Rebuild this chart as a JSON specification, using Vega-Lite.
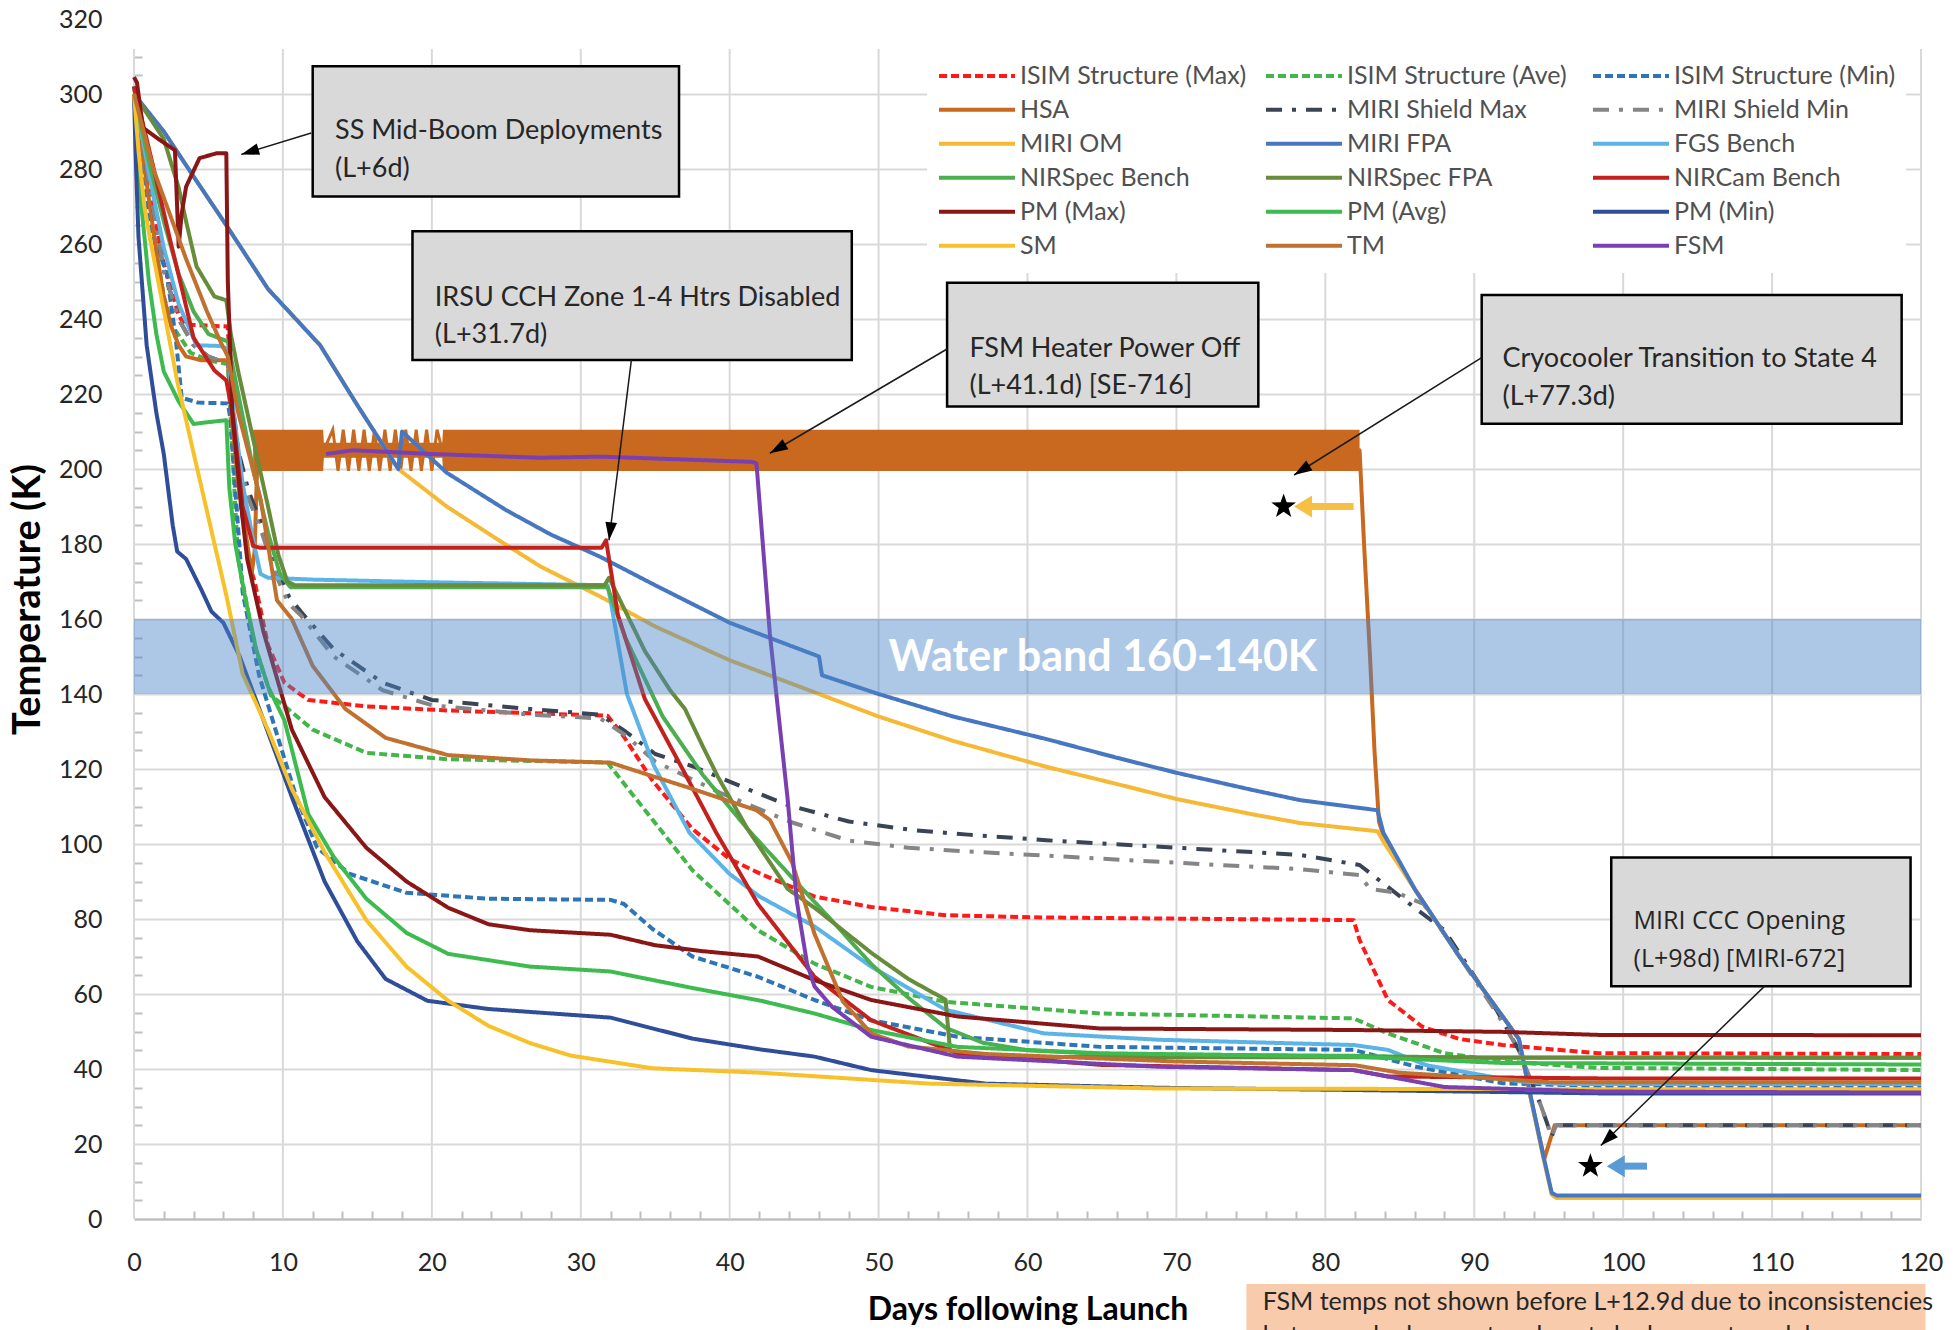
{
"$schema": "https://vega.github.io/schema/vega-lite/v6.json",
"width": 1787,
"height": 1200,
"autosize": "none",
"padding": {"left": 134, "top": 19, "right": 38, "bottom": 111},
"background": "#ffffff",
"config": {"view": {"stroke": null}, "font": "Lato"},
"datasets": {
"grid": [{"d":0,"k0":0,"k1":312},{"d":10,"k0":0,"k1":312},{"d":20,"k0":0,"k1":312},{"d":30,"k0":0,"k1":312},{"d":40,"k0":0,"k1":312},{"d":50,"k0":0,"k1":312},{"d":60,"k0":0,"k1":312},{"d":70,"k0":0,"k1":312},{"d":80,"k0":0,"k1":312},{"d":90,"k0":0,"k1":312},{"d":100,"k0":0,"k1":312},{"d":110,"k0":0,"k1":312},{"d":120,"k0":0,"k1":312}],
"hsaband": [{"d":8.0,"lo":199.5,"hi":210.5},{"d":12.7,"lo":199.5,"hi":210.5},{"d":12.75,"lo":203,"hi":207},{"d":20.7,"lo":203,"hi":207},{"d":20.75,"lo":199.5,"hi":210.5},{"d":82.3,"lo":199.5,"hi":210.5}],
"hsazig": [{"d":12.75,"k":205},{"d":13.35,"k":210.5},{"d":13.7,"k":199.5},{"d":14.05,"k":210.5},{"d":14.4,"k":199.5},{"d":14.75,"k":210.5},{"d":15.1,"k":199.5},{"d":15.45,"k":210.5},{"d":15.8,"k":199.5},{"d":16.15,"k":210.5},{"d":16.5,"k":199.5},{"d":16.85,"k":210.5},{"d":17.2,"k":199.5},{"d":17.55,"k":210.5},{"d":17.9,"k":199.5},{"d":18.25,"k":210.5},{"d":18.6,"k":199.5},{"d":18.95,"k":210.5},{"d":19.3,"k":199.5},{"d":19.65,"k":210.5},{"d":20.0,"k":199.5},{"d":20.35,"k":210.5},{"d":20.7,"k":205}],
"series": [
{"s":"ISIM Structure (Max)","d":0,"k":300},{"s":"ISIM Structure (Max)","d":1,"k":275},{"s":"ISIM Structure (Max)","d":2,"k":255},{"s":"ISIM Structure (Max)","d":3,"k":241},{"s":"ISIM Structure (Max)","d":3.4,"k":238.5},{"s":"ISIM Structure (Max)","d":6.3,"k":238},{"s":"ISIM Structure (Max)","d":6.6,"k":215},{"s":"ISIM Structure (Max)","d":7.2,"k":190},{"s":"ISIM Structure (Max)","d":7.7,"k":175},{"s":"ISIM Structure (Max)","d":8.1,"k":170},{"s":"ISIM Structure (Max)","d":9,"k":153},{"s":"ISIM Structure (Max)","d":10.1,"k":143},{"s":"ISIM Structure (Max)","d":11.7,"k":138.4},{"s":"ISIM Structure (Max)","d":15.6,"k":136.7},{"s":"ISIM Structure (Max)","d":21.1,"k":135.6},{"s":"ISIM Structure (Max)","d":31.8,"k":134.2},{"s":"ISIM Structure (Max)","d":32.9,"k":128.6},{"s":"ISIM Structure (Max)","d":34.8,"k":117},{"s":"ISIM Structure (Max)","d":37.5,"k":104},{"s":"ISIM Structure (Max)","d":40,"k":96},{"s":"ISIM Structure (Max)","d":42.1,"k":92},{"s":"ISIM Structure (Max)","d":45.7,"k":86},{"s":"ISIM Structure (Max)","d":49.5,"k":83.2},{"s":"ISIM Structure (Max)","d":54.5,"k":81},{"s":"ISIM Structure (Max)","d":61.1,"k":80.4},{"s":"ISIM Structure (Max)","d":81.9,"k":79.7},{"s":"ISIM Structure (Max)","d":82.3,"k":74.4},{"s":"ISIM Structure (Max)","d":84.2,"k":58.4},{"s":"ISIM Structure (Max)","d":86.5,"k":51.3},{"s":"ISIM Structure (Max)","d":89,"k":48},{"s":"ISIM Structure (Max)","d":91.9,"k":46.4},{"s":"ISIM Structure (Max)","d":98.3,"k":44.2},{"s":"ISIM Structure (Max)","d":120,"k":44},
{"s":"ISIM Structure (Ave)","d":0,"k":300},{"s":"ISIM Structure (Ave)","d":1,"k":270},{"s":"ISIM Structure (Ave)","d":2,"k":246},{"s":"ISIM Structure (Ave)","d":2.6,"k":238},{"s":"ISIM Structure (Ave)","d":3.8,"k":231},{"s":"ISIM Structure (Ave)","d":5,"k":229},{"s":"ISIM Structure (Ave)","d":6.3,"k":228},{"s":"ISIM Structure (Ave)","d":6.8,"k":190},{"s":"ISIM Structure (Ave)","d":7,"k":176},{"s":"ISIM Structure (Ave)","d":8.1,"k":153},{"s":"ISIM Structure (Ave)","d":9.2,"k":139.6},{"s":"ISIM Structure (Ave)","d":10.1,"k":136.8},{"s":"ISIM Structure (Ave)","d":12,"k":130.5},{"s":"ISIM Structure (Ave)","d":15.6,"k":124.3},{"s":"ISIM Structure (Ave)","d":21.1,"k":122.6},{"s":"ISIM Structure (Ave)","d":31.8,"k":121.7},{"s":"ISIM Structure (Ave)","d":33.2,"k":114.6},{"s":"ISIM Structure (Ave)","d":34.8,"k":106.6},{"s":"ISIM Structure (Ave)","d":37.5,"k":93},{"s":"ISIM Structure (Ave)","d":41.9,"k":77},{"s":"ISIM Structure (Ave)","d":45.7,"k":68.1},{"s":"ISIM Structure (Ave)","d":49.5,"k":61.9},{"s":"ISIM Structure (Ave)","d":54.5,"k":57.9},{"s":"ISIM Structure (Ave)","d":64.9,"k":54.8},{"s":"ISIM Structure (Ave)","d":81.9,"k":53.5},{"s":"ISIM Structure (Ave)","d":84.2,"k":49.5},{"s":"ISIM Structure (Ave)","d":88,"k":44.2},{"s":"ISIM Structure (Ave)","d":92,"k":42},{"s":"ISIM Structure (Ave)","d":98.3,"k":40.3},{"s":"ISIM Structure (Ave)","d":120,"k":39.7},
{"s":"ISIM Structure (Min)","d":0,"k":300},{"s":"ISIM Structure (Min)","d":0.5,"k":280},{"s":"ISIM Structure (Min)","d":1,"k":266},{"s":"ISIM Structure (Min)","d":2.2,"k":252},{"s":"ISIM Structure (Min)","d":2.8,"k":235},{"s":"ISIM Structure (Min)","d":3.2,"k":219},{"s":"ISIM Structure (Min)","d":4.3,"k":217.7},{"s":"ISIM Structure (Min)","d":6.3,"k":217.5},{"s":"ISIM Structure (Min)","d":6.45,"k":214},{"s":"ISIM Structure (Min)","d":6.8,"k":195},{"s":"ISIM Structure (Min)","d":7.3,"k":167},{"s":"ISIM Structure (Min)","d":8.4,"k":145},{"s":"ISIM Structure (Min)","d":9.5,"k":130.5},{"s":"ISIM Structure (Min)","d":10.9,"k":112.5},{"s":"ISIM Structure (Min)","d":12.3,"k":99},{"s":"ISIM Structure (Min)","d":14.5,"k":92},{"s":"ISIM Structure (Min)","d":18.3,"k":87},{"s":"ISIM Structure (Min)","d":23.8,"k":85.4},{"s":"ISIM Structure (Min)","d":32,"k":85.1},{"s":"ISIM Structure (Min)","d":32.9,"k":84},{"s":"ISIM Structure (Min)","d":34.8,"k":77.4},{"s":"ISIM Structure (Min)","d":37.5,"k":70},{"s":"ISIM Structure (Min)","d":41.9,"k":64.6},{"s":"ISIM Structure (Min)","d":45.7,"k":58.4},{"s":"ISIM Structure (Min)","d":49.5,"k":53},{"s":"ISIM Structure (Min)","d":55.3,"k":48.6},{"s":"ISIM Structure (Min)","d":64.9,"k":45.9},{"s":"ISIM Structure (Min)","d":81.9,"k":45.1},{"s":"ISIM Structure (Min)","d":86.1,"k":40.6},{"s":"ISIM Structure (Min)","d":91.9,"k":36.2},{"s":"ISIM Structure (Min)","d":98.3,"k":35.5},{"s":"ISIM Structure (Min)","d":120,"k":35.5},
{"s":"HSA","d":0,"k":300},{"s":"HSA","d":0.5,"k":286},{"s":"HSA","d":1,"k":272},{"s":"HSA","d":1.5,"k":258},{"s":"HSA","d":2,"k":246},{"s":"HSA","d":2.5,"k":238},{"s":"HSA","d":3,"k":233},{"s":"HSA","d":3.5,"k":230},{"s":"HSA","d":4.5,"k":229},{"s":"HSA","d":5.5,"k":229},{"s":"HSA","d":6.3,"k":229},{"s":"HSA","d":6.6,"k":212},{"s":"HSA","d":7,"k":196},{"s":"HSA","d":7.5,"k":183},{"s":"HSA","d":7.9,"k":172},{"s":"HSA","d":8.1,"k":178},{"s":"HSA","d":8.3,"k":205},{"s":"HSA","d":82.3,"k":205},{"s":"HSA","d":82.6,"k":180},{"s":"HSA","d":83,"k":150},{"s":"HSA","d":83.3,"k":125},{"s":"HSA","d":83.6,"k":106},{"s":"HSA","d":84,"k":101},{"s":"HSA","d":86,"k":88},{"s":"HSA","d":89,"k":70},{"s":"HSA","d":93,"k":48},{"s":"HSA","d":93.7,"k":34},{"s":"HSA","d":94.7,"k":16},{"s":"HSA","d":95.4,"k":25},{"s":"HSA","d":120,"k":25},
{"s":"MIRI Shield Max","d":0,"k":302},{"s":"MIRI Shield Max","d":1,"k":276},{"s":"MIRI Shield Max","d":2,"k":253},{"s":"MIRI Shield Max","d":3,"k":240},{"s":"MIRI Shield Max","d":4,"k":233},{"s":"MIRI Shield Max","d":5,"k":230},{"s":"MIRI Shield Max","d":6.3,"k":228},{"s":"MIRI Shield Max","d":7,"k":205},{"s":"MIRI Shield Max","d":7.7,"k":194},{"s":"MIRI Shield Max","d":8.5,"k":186},{"s":"MIRI Shield Max","d":9.5,"k":175},{"s":"MIRI Shield Max","d":10.4,"k":166},{"s":"MIRI Shield Max","d":11.2,"k":162},{"s":"MIRI Shield Max","d":13.4,"k":152},{"s":"MIRI Shield Max","d":16.7,"k":143},{"s":"MIRI Shield Max","d":20,"k":138.4},{"s":"MIRI Shield Max","d":26.6,"k":136},{"s":"MIRI Shield Max","d":31.3,"k":134.5},{"s":"MIRI Shield Max","d":33,"k":130},{"s":"MIRI Shield Max","d":35,"k":124},{"s":"MIRI Shield Max","d":37.6,"k":120.6},{"s":"MIRI Shield Max","d":41.6,"k":114},{"s":"MIRI Shield Max","d":43.9,"k":110.4},{"s":"MIRI Shield Max","d":48,"k":106},{"s":"MIRI Shield Max","d":52.3,"k":103.7},{"s":"MIRI Shield Max","d":56,"k":102.5},{"s":"MIRI Shield Max","d":61.25,"k":101},{"s":"MIRI Shield Max","d":70,"k":99},{"s":"MIRI Shield Max","d":78.3,"k":97.1},{"s":"MIRI Shield Max","d":82.3,"k":94.4},{"s":"MIRI Shield Max","d":83.4,"k":91},{"s":"MIRI Shield Max","d":86,"k":83},{"s":"MIRI Shield Max","d":88,"k":77},{"s":"MIRI Shield Max","d":91.5,"k":55.7},{"s":"MIRI Shield Max","d":93,"k":45},{"s":"MIRI Shield Max","d":94.5,"k":30},{"s":"MIRI Shield Max","d":95.2,"k":22},{"s":"MIRI Shield Max","d":95.5,"k":25},{"s":"MIRI Shield Max","d":120,"k":25},
{"s":"MIRI Shield Min","d":0,"k":302},{"s":"MIRI Shield Min","d":1,"k":276},{"s":"MIRI Shield Min","d":2,"k":253},{"s":"MIRI Shield Min","d":3,"k":240},{"s":"MIRI Shield Min","d":4,"k":233},{"s":"MIRI Shield Min","d":5,"k":230},{"s":"MIRI Shield Min","d":6.3,"k":228},{"s":"MIRI Shield Min","d":7,"k":203},{"s":"MIRI Shield Min","d":7.7,"k":192},{"s":"MIRI Shield Min","d":8.5,"k":184},{"s":"MIRI Shield Min","d":9.5,"k":172},{"s":"MIRI Shield Min","d":10.4,"k":164},{"s":"MIRI Shield Min","d":11.2,"k":161},{"s":"MIRI Shield Min","d":13.4,"k":150},{"s":"MIRI Shield Min","d":16.7,"k":141},{"s":"MIRI Shield Min","d":20,"k":137},{"s":"MIRI Shield Min","d":26.6,"k":134.5},{"s":"MIRI Shield Min","d":31.3,"k":133.5},{"s":"MIRI Shield Min","d":33,"k":129},{"s":"MIRI Shield Min","d":35,"k":122},{"s":"MIRI Shield Min","d":39.4,"k":113.6},{"s":"MIRI Shield Min","d":44,"k":106},{"s":"MIRI Shield Min","d":48,"k":100.9},{"s":"MIRI Shield Min","d":52,"k":99},{"s":"MIRI Shield Min","d":56,"k":98},{"s":"MIRI Shield Min","d":61.25,"k":96.9},{"s":"MIRI Shield Min","d":70,"k":95},{"s":"MIRI Shield Min","d":78.3,"k":93.3},{"s":"MIRI Shield Min","d":82.3,"k":91.7},{"s":"MIRI Shield Min","d":83,"k":88},{"s":"MIRI Shield Min","d":84.8,"k":87},{"s":"MIRI Shield Min","d":86.6,"k":84},{"s":"MIRI Shield Min","d":88,"k":76},{"s":"MIRI Shield Min","d":91.5,"k":55},{"s":"MIRI Shield Min","d":93,"k":45},{"s":"MIRI Shield Min","d":94.5,"k":30},{"s":"MIRI Shield Min","d":95.2,"k":22},{"s":"MIRI Shield Min","d":95.5,"k":25},{"s":"MIRI Shield Min","d":120,"k":25},
{"s":"MIRI OM","d":0,"k":300},{"s":"MIRI OM","d":2,"k":290},{"s":"MIRI OM","d":4,"k":278},{"s":"MIRI OM","d":6.2,"k":265},{"s":"MIRI OM","d":9,"k":248},{"s":"MIRI OM","d":12.5,"k":233},{"s":"MIRI OM","d":15,"k":217},{"s":"MIRI OM","d":17.75,"k":200},{"s":"MIRI OM","d":21,"k":190},{"s":"MIRI OM","d":24.5,"k":181},{"s":"MIRI OM","d":27.3,"k":174},{"s":"MIRI OM","d":31.3,"k":166},{"s":"MIRI OM","d":35,"k":158},{"s":"MIRI OM","d":40,"k":149},{"s":"MIRI OM","d":46,"k":140},{"s":"MIRI OM","d":50,"k":134},{"s":"MIRI OM","d":55,"k":127.5},{"s":"MIRI OM","d":61.25,"k":120.6},{"s":"MIRI OM","d":66,"k":116},{"s":"MIRI OM","d":70,"k":112},{"s":"MIRI OM","d":75,"k":108},{"s":"MIRI OM","d":78.3,"k":105.6},{"s":"MIRI OM","d":83.5,"k":103.4},{"s":"MIRI OM","d":84,"k":100},{"s":"MIRI OM","d":86,"k":88},{"s":"MIRI OM","d":89,"k":70},{"s":"MIRI OM","d":93,"k":48},{"s":"MIRI OM","d":93.7,"k":34},{"s":"MIRI OM","d":94.6,"k":17},{"s":"MIRI OM","d":95.2,"k":6.5},{"s":"MIRI OM","d":95.5,"k":5.6},{"s":"MIRI OM","d":120,"k":5.6},
{"s":"MIRI FPA","d":0,"k":300},{"s":"MIRI FPA","d":2,"k":290},{"s":"MIRI FPA","d":4,"k":278},{"s":"MIRI FPA","d":6.2,"k":265},{"s":"MIRI FPA","d":9,"k":248},{"s":"MIRI FPA","d":12.5,"k":233},{"s":"MIRI FPA","d":15,"k":217},{"s":"MIRI FPA","d":17.75,"k":200},{"s":"MIRI FPA","d":18,"k":210},{"s":"MIRI FPA","d":21,"k":199},{"s":"MIRI FPA","d":25,"k":189},{"s":"MIRI FPA","d":28,"k":182.5},{"s":"MIRI FPA","d":31.3,"k":176.6},{"s":"MIRI FPA","d":35,"k":169},{"s":"MIRI FPA","d":40,"k":159},{"s":"MIRI FPA","d":44,"k":153},{"s":"MIRI FPA","d":46,"k":150},{"s":"MIRI FPA","d":46.2,"k":145},{"s":"MIRI FPA","d":50,"k":140},{"s":"MIRI FPA","d":55,"k":134},{"s":"MIRI FPA","d":61.25,"k":128},{"s":"MIRI FPA","d":66,"k":123},{"s":"MIRI FPA","d":70,"k":119},{"s":"MIRI FPA","d":75,"k":114.5},{"s":"MIRI FPA","d":78.3,"k":111.7},{"s":"MIRI FPA","d":83.5,"k":109},{"s":"MIRI FPA","d":83.9,"k":103},{"s":"MIRI FPA","d":86,"k":88},{"s":"MIRI FPA","d":89,"k":70},{"s":"MIRI FPA","d":93,"k":48},{"s":"MIRI FPA","d":93.7,"k":34.4},{"s":"MIRI FPA","d":94.6,"k":17.6},{"s":"MIRI FPA","d":95.2,"k":7},{"s":"MIRI FPA","d":95.5,"k":6.3},{"s":"MIRI FPA","d":120,"k":6.3},
{"s":"FGS Bench","d":0,"k":300},{"s":"FGS Bench","d":1,"k":279},{"s":"FGS Bench","d":2,"k":259},{"s":"FGS Bench","d":3,"k":244},{"s":"FGS Bench","d":4.2,"k":233},{"s":"FGS Bench","d":5.8,"k":232.8},{"s":"FGS Bench","d":6.3,"k":232},{"s":"FGS Bench","d":6.7,"k":215},{"s":"FGS Bench","d":7.3,"k":196},{"s":"FGS Bench","d":8,"k":181},{"s":"FGS Bench","d":8.5,"k":172},{"s":"FGS Bench","d":9,"k":171},{"s":"FGS Bench","d":12,"k":170.5},{"s":"FGS Bench","d":20,"k":169.8},{"s":"FGS Bench","d":31.8,"k":169},{"s":"FGS Bench","d":32,"k":165},{"s":"FGS Bench","d":33.1,"k":140},{"s":"FGS Bench","d":34.9,"k":121},{"s":"FGS Bench","d":37.3,"k":103},{"s":"FGS Bench","d":40,"k":92},{"s":"FGS Bench","d":42,"k":86},{"s":"FGS Bench","d":45.7,"k":78},{"s":"FGS Bench","d":49.5,"k":67.3},{"s":"FGS Bench","d":54.5,"k":55.8},{"s":"FGS Bench","d":61.1,"k":49.5},{"s":"FGS Bench","d":68.8,"k":47.8},{"s":"FGS Bench","d":81.9,"k":46.4},{"s":"FGS Bench","d":84.2,"k":45.1},{"s":"FGS Bench","d":86.8,"k":41},{"s":"FGS Bench","d":90.2,"k":38.6},{"s":"FGS Bench","d":93,"k":36.7},{"s":"FGS Bench","d":96,"k":36},{"s":"FGS Bench","d":120,"k":36},
{"s":"NIRSpec Bench","d":0,"k":300},{"s":"NIRSpec Bench","d":1,"k":282},{"s":"NIRSpec Bench","d":2,"k":266},{"s":"NIRSpec Bench","d":3,"k":252},{"s":"NIRSpec Bench","d":4,"k":242},{"s":"NIRSpec Bench","d":5,"k":236},{"s":"NIRSpec Bench","d":6.3,"k":234},{"s":"NIRSpec Bench","d":7,"k":220},{"s":"NIRSpec Bench","d":8,"k":200},{"s":"NIRSpec Bench","d":9,"k":183},{"s":"NIRSpec Bench","d":9.8,"k":172},{"s":"NIRSpec Bench","d":10.5,"k":168.5},{"s":"NIRSpec Bench","d":20,"k":168.5},{"s":"NIRSpec Bench","d":31.8,"k":168.5},{"s":"NIRSpec Bench","d":33,"k":155},{"s":"NIRSpec Bench","d":35.5,"k":134},{"s":"NIRSpec Bench","d":38.2,"k":118.4},{"s":"NIRSpec Bench","d":41.2,"k":104},{"s":"NIRSpec Bench","d":44.2,"k":91},{"s":"NIRSpec Bench","d":47,"k":79},{"s":"NIRSpec Bench","d":49.5,"k":68},{"s":"NIRSpec Bench","d":52,"k":59},{"s":"NIRSpec Bench","d":54.5,"k":51},{"s":"NIRSpec Bench","d":57,"k":47},{"s":"NIRSpec Bench","d":60,"k":45},{"s":"NIRSpec Bench","d":65,"k":44},{"s":"NIRSpec Bench","d":82,"k":43.5},{"s":"NIRSpec Bench","d":90,"k":43},{"s":"NIRSpec Bench","d":120,"k":43},
{"s":"NIRSpec FPA","d":0,"k":300},{"s":"NIRSpec FPA","d":2,"k":288},{"s":"NIRSpec FPA","d":3,"k":275},{"s":"NIRSpec FPA","d":3.5,"k":266},{"s":"NIRSpec FPA","d":4.2,"k":254},{"s":"NIRSpec FPA","d":5.4,"k":246},{"s":"NIRSpec FPA","d":6.2,"k":245},{"s":"NIRSpec FPA","d":6.5,"k":236},{"s":"NIRSpec FPA","d":7,"k":226},{"s":"NIRSpec FPA","d":8,"k":208},{"s":"NIRSpec FPA","d":9,"k":190},{"s":"NIRSpec FPA","d":9.7,"k":177},{"s":"NIRSpec FPA","d":10.3,"k":170},{"s":"NIRSpec FPA","d":10.8,"k":169},{"s":"NIRSpec FPA","d":20,"k":169},{"s":"NIRSpec FPA","d":31.6,"k":169},{"s":"NIRSpec FPA","d":31.9,"k":171},{"s":"NIRSpec FPA","d":34.3,"k":151.5},{"s":"NIRSpec FPA","d":36,"k":141},{"s":"NIRSpec FPA","d":37,"k":136},{"s":"NIRSpec FPA","d":38.2,"k":126},{"s":"NIRSpec FPA","d":39.2,"k":118},{"s":"NIRSpec FPA","d":41.2,"k":104},{"s":"NIRSpec FPA","d":43.9,"k":88},{"s":"NIRSpec FPA","d":45.7,"k":83},{"s":"NIRSpec FPA","d":49.5,"k":71},{"s":"NIRSpec FPA","d":52,"k":64},{"s":"NIRSpec FPA","d":54.5,"k":58.5},{"s":"NIRSpec FPA","d":54.8,"k":45},{"s":"NIRSpec FPA","d":56,"k":43.5},{"s":"NIRSpec FPA","d":60,"k":43.2},{"s":"NIRSpec FPA","d":120,"k":43},
{"s":"NIRCam Bench","d":0,"k":302},{"s":"NIRCam Bench","d":1.3,"k":280.5},{"s":"NIRCam Bench","d":2.4,"k":261.5},{"s":"NIRCam Bench","d":3.1,"k":250},{"s":"NIRCam Bench","d":4,"k":235},{"s":"NIRCam Bench","d":5.4,"k":226.3},{"s":"NIRCam Bench","d":6.2,"k":223.6},{"s":"NIRCam Bench","d":6.65,"k":214},{"s":"NIRCam Bench","d":7.3,"k":190},{"s":"NIRCam Bench","d":8,"k":179.5},{"s":"NIRCam Bench","d":8.45,"k":179},{"s":"NIRCam Bench","d":20,"k":179},{"s":"NIRCam Bench","d":31.4,"k":179},{"s":"NIRCam Bench","d":31.7,"k":181},{"s":"NIRCam Bench","d":32.5,"k":161},{"s":"NIRCam Bench","d":34.3,"k":138.7},{"s":"NIRCam Bench","d":36.7,"k":121},{"s":"NIRCam Bench","d":39.1,"k":103},{"s":"NIRCam Bench","d":41.9,"k":84},{"s":"NIRCam Bench","d":45.7,"k":64.6},{"s":"NIRCam Bench","d":49.5,"k":53},{"s":"NIRCam Bench","d":55.3,"k":44.2},{"s":"NIRCam Bench","d":64.9,"k":41.1},{"s":"NIRCam Bench","d":81.9,"k":39.7},{"s":"NIRCam Bench","d":84.2,"k":38},{"s":"NIRCam Bench","d":98.3,"k":37.5},{"s":"NIRCam Bench","d":120,"k":37.5},
{"s":"PM (Max)","d":0,"k":304.5},{"s":"PM (Max)","d":0.2,"k":303},{"s":"PM (Max)","d":0.6,"k":291},{"s":"PM (Max)","d":1.75,"k":287.7},{"s":"PM (Max)","d":2.75,"k":285},{"s":"PM (Max)","d":3.0,"k":259.3},{"s":"PM (Max)","d":3.2,"k":268},{"s":"PM (Max)","d":3.5,"k":275.3},{"s":"PM (Max)","d":4.4,"k":282.9},{"s":"PM (Max)","d":5.55,"k":284.2},{"s":"PM (Max)","d":6.2,"k":284.2},{"s":"PM (Max)","d":6.3,"k":250},{"s":"PM (Max)","d":6.6,"k":215},{"s":"PM (Max)","d":7.2,"k":190},{"s":"PM (Max)","d":7.6,"k":176},{"s":"PM (Max)","d":8.7,"k":156.5},{"s":"PM (Max)","d":10.6,"k":130.5},{"s":"PM (Max)","d":12.8,"k":112.5},{"s":"PM (Max)","d":15.6,"k":99},{"s":"PM (Max)","d":18.3,"k":90},{"s":"PM (Max)","d":21.1,"k":83},{"s":"PM (Max)","d":23.8,"k":78.6},{"s":"PM (Max)","d":26.6,"k":77},{"s":"PM (Max)","d":32,"k":75.8},{"s":"PM (Max)","d":35,"k":73},{"s":"PM (Max)","d":38,"k":71.5},{"s":"PM (Max)","d":41.9,"k":70},{"s":"PM (Max)","d":45.7,"k":63.7},{"s":"PM (Max)","d":49.5,"k":58.4},{"s":"PM (Max)","d":55.3,"k":54},{"s":"PM (Max)","d":64.9,"k":50.8},{"s":"PM (Max)","d":81.9,"k":50.4},{"s":"PM (Max)","d":91.9,"k":49.9},{"s":"PM (Max)","d":98.3,"k":49.1},{"s":"PM (Max)","d":120,"k":49},
{"s":"PM (Avg)","d":0,"k":300},{"s":"PM (Avg)","d":0.5,"k":270},{"s":"PM (Avg)","d":1,"k":250},{"s":"PM (Avg)","d":1.5,"k":236},{"s":"PM (Avg)","d":2,"k":226},{"s":"PM (Avg)","d":3,"k":218},{"s":"PM (Avg)","d":4,"k":212},{"s":"PM (Avg)","d":5,"k":212.5},{"s":"PM (Avg)","d":6.2,"k":213},{"s":"PM (Avg)","d":6.4,"k":195},{"s":"PM (Avg)","d":6.8,"k":180},{"s":"PM (Avg)","d":7.5,"k":165},{"s":"PM (Avg)","d":8.2,"k":152},{"s":"PM (Avg)","d":9,"k":142},{"s":"PM (Avg)","d":10.1,"k":133},{"s":"PM (Avg)","d":11.7,"k":108},{"s":"PM (Avg)","d":13.4,"k":96.6},{"s":"PM (Avg)","d":15.6,"k":85.4},{"s":"PM (Avg)","d":18.3,"k":76.3},{"s":"PM (Avg)","d":21.1,"k":70.7},{"s":"PM (Avg)","d":26.6,"k":67.3},{"s":"PM (Avg)","d":32,"k":66},{"s":"PM (Avg)","d":37.5,"k":61.6},{"s":"PM (Avg)","d":42.1,"k":58.2},{"s":"PM (Avg)","d":45.7,"k":54.8},{"s":"PM (Avg)","d":49.5,"k":50.4},{"s":"PM (Avg)","d":55.3,"k":45.9},{"s":"PM (Avg)","d":64.9,"k":44.2},{"s":"PM (Avg)","d":81.9,"k":43.3},{"s":"PM (Avg)","d":91.9,"k":41.6},{"s":"PM (Avg)","d":120,"k":41.2},
{"s":"PM (Min)","d":0,"k":300},{"s":"PM (Min)","d":0.1,"k":285},{"s":"PM (Min)","d":0.3,"k":262},{"s":"PM (Min)","d":0.85,"k":233},{"s":"PM (Min)","d":1.5,"k":215},{"s":"PM (Min)","d":2,"k":204},{"s":"PM (Min)","d":2.6,"k":185},{"s":"PM (Min)","d":2.9,"k":178},{"s":"PM (Min)","d":3.5,"k":176},{"s":"PM (Min)","d":4.5,"k":168},{"s":"PM (Min)","d":5.2,"k":162},{"s":"PM (Min)","d":6,"k":159},{"s":"PM (Min)","d":7.1,"k":150},{"s":"PM (Min)","d":8.7,"k":133},{"s":"PM (Min)","d":10.6,"k":112.5},{"s":"PM (Min)","d":12.8,"k":90},{"s":"PM (Min)","d":15,"k":74},{"s":"PM (Min)","d":16.9,"k":64},{"s":"PM (Min)","d":19.7,"k":58.2},{"s":"PM (Min)","d":23.8,"k":56},{"s":"PM (Min)","d":32,"k":53.7},{"s":"PM (Min)","d":37.5,"k":48.1},{"s":"PM (Min)","d":42.1,"k":45.2},{"s":"PM (Min)","d":45.7,"k":43.3},{"s":"PM (Min)","d":49.5,"k":39.7},{"s":"PM (Min)","d":57.2,"k":36.1},{"s":"PM (Min)","d":68.8,"k":35},{"s":"PM (Min)","d":81.9,"k":34.4},{"s":"PM (Min)","d":98.3,"k":33.5},{"s":"PM (Min)","d":120,"k":33.5},
{"s":"SM","d":0,"k":300},{"s":"SM","d":0.3,"k":285},{"s":"SM","d":0.7,"k":270},{"s":"SM","d":1.07,"k":261.5},{"s":"SM","d":2,"k":242.4},{"s":"SM","d":2.9,"k":223.5},{"s":"SM","d":4,"k":204.3},{"s":"SM","d":5.1,"k":185.3},{"s":"SM","d":6.2,"k":166.3},{"s":"SM","d":7.3,"k":145.3},{"s":"SM","d":9,"k":130.5},{"s":"SM","d":10.6,"k":114.7},{"s":"SM","d":12.8,"k":97.8},{"s":"SM","d":15.6,"k":79.7},{"s":"SM","d":18.3,"k":67.3},{"s":"SM","d":21.1,"k":58.2},{"s":"SM","d":23.8,"k":51.5},{"s":"SM","d":26.6,"k":46.9},{"s":"SM","d":29.3,"k":43.6},{"s":"SM","d":34.8,"k":40.2},{"s":"SM","d":42.1,"k":39},{"s":"SM","d":53.4,"k":36.1},{"s":"SM","d":68.8,"k":34.8},{"s":"SM","d":98.3,"k":34.6},{"s":"SM","d":120,"k":34.6},
{"s":"TM","d":0,"k":300},{"s":"TM","d":1.3,"k":280},{"s":"TM","d":3.5,"k":256},{"s":"TM","d":4.9,"k":242},{"s":"TM","d":5.8,"k":234},{"s":"TM","d":6.3,"k":230},{"s":"TM","d":7,"k":215},{"s":"TM","d":8.5,"k":192},{"s":"TM","d":9.6,"k":165},{"s":"TM","d":10.6,"k":160},{"s":"TM","d":12,"k":147.5},{"s":"TM","d":14.2,"k":136},{"s":"TM","d":16.9,"k":128.3},{"s":"TM","d":21.1,"k":123.7},{"s":"TM","d":26.6,"k":122.3},{"s":"TM","d":32,"k":121.7},{"s":"TM","d":34.8,"k":118.1},{"s":"TM","d":37.5,"k":114.7},{"s":"TM","d":41.8,"k":109},{"s":"TM","d":42.7,"k":106.4},{"s":"TM","d":44.2,"k":95},{"s":"TM","d":45.7,"k":76},{"s":"TM","d":47.6,"k":58},{"s":"TM","d":49.5,"k":49.5},{"s":"TM","d":52,"k":46},{"s":"TM","d":57.2,"k":44},{"s":"TM","d":70,"k":42},{"s":"TM","d":82,"k":41},{"s":"TM","d":85,"k":39},{"s":"TM","d":95,"k":36.5},{"s":"TM","d":120,"k":36.5},
{"s":"FSM","d":12.9,"k":204},{"s":"FSM","d":14.7,"k":205},{"s":"FSM","d":20,"k":204},{"s":"FSM","d":27.3,"k":203},{"s":"FSM","d":31.3,"k":203.3},{"s":"FSM","d":41.5,"k":201.9},{"s":"FSM","d":41.8,"k":201.5},{"s":"FSM","d":42.7,"k":156},{"s":"FSM","d":43.9,"k":111.7},{"s":"FSM","d":44.5,"k":85},{"s":"FSM","d":45.2,"k":68},{"s":"FSM","d":45.7,"k":62},{"s":"FSM","d":46.9,"k":56.5},{"s":"FSM","d":49.5,"k":48.6},{"s":"FSM","d":55.3,"k":43.3},{"s":"FSM","d":68.8,"k":40.6},{"s":"FSM","d":81.9,"k":39.7},{"s":"FSM","d":88,"k":35.2},{"s":"FSM","d":98.3,"k":34},{"s":"FSM","d":120,"k":33.7}
],
"boxes": [{"x1":12.0,"x2":36.6,"y1":272.7,"y2":307.4},{"x1":18.7,"x2":48.2,"y1":229.1,"y2":263.4},{"x1":54.6,"x2":75.5,"y1":216.7,"y2":249.7},{"x1":90.5,"x2":118.7,"y1":212.1,"y2":246.4},{"x1":99.2,"x2":119.3,"y1":62.1,"y2":96.4}],
"boxtext": [{"d":13.5,"k":290.1,"t":"SS Mid-Boom Deployments"},{"d":13.5,"k":280.1,"t":"(L+6d)"},{"d":20.2,"k":245.7,"t":"IRSU CCH Zone 1-4 Htrs Disabled"},{"d":20.2,"k":235.7,"t":"(L+31.7d)"},{"d":56.1,"k":232.1,"t":"FSM Heater Power Off"},{"d":56.1,"k":222.1,"t":"(L+41.1d) [SE-716]"},{"d":91.9,"k":229.4,"t":"Cryocooler Transition to State 4"},{"d":91.9,"k":219.1,"t":"(L+77.3d)"}],
"miritext": [{"d":100.7,"k":79.4,"t":"MIRI CCC Opening"},{"d":100.7,"k":69.4,"t":"(L+98d) [MIRI-672]"}],
"arrows": [{"d1":11.9,"k1":289.6,"d2":7.2,"k2":283.9},{"d1":33.4,"k1":229.1,"d2":31.9,"k2":181},{"d1":54.6,"k1":232,"d2":42.7,"k2":204.2},{"d1":90.5,"k1":229.7,"d2":77.9,"k2":198.4},{"d1":109.5,"k1":62.1,"d2":98.5,"k2":19.6}],
"heads": [{"id":"a1","d":7.2,"k":283.9},{"id":"a2","d":31.9,"k":181},{"id":"a3","d":42.7,"k":204.2},{"id":"a4","d":77.9,"k":198.4},{"id":"a5","d":98.5,"k":19.6}],
"stars": [{"d":77.2,"k":190},{"d":97.8,"k":14.1}]
},
"resolve": {"axis": {"x": "independent", "y": "independent"}},
"layer": [
{
"layer": [
{
"data": {"name": "grid"},
"mark": {"type": "rule", "color": "#d9d9d9", "strokeWidth": 2},
"encoding": {
"x": {"field": "d", "type": "quantitative", "scale": {"domain": [0, 120], "nice": false, "zero": false},
"axis": {"orient": "bottom", "values": [0,10,20,30,40,50,60,70,80,90,100,110,120], "grid": false, "ticks": false, "tickSize": 0, "domain": true, "domainColor": "#bfbfbf", "domainWidth": 2.5, "labelFont": "Lato", "labelFontSize": 25, "labelColor": "#262626", "labelPadding": 31, "labelFlush": false, "title": "Days following Launch", "titleFont": "Lato", "titleFontSize": 32, "titleFontWeight": "bold", "titleColor": "#000000", "titleY": 90, "titleBaseline": "middle"}},
"y": {"field": "k0", "type": "quantitative", "scale": {"domain": [0, 320], "nice": false, "zero": false},
"axis": {"orient": "left", "values": [0,20,40,60,80,100,120,140,160,180,200,220,240,260,280,300,320], "grid": true, "gridColor": "#d9d9d9", "gridWidth": 2, "gridOpacity": {"condition": {"test": "datum.value >= 320 || datum.value <= 0", "value": 0}, "value": 1}, "domain": false, "ticks": false, "tickSize": 0, "labelFont": "Lato", "labelFontSize": 25, "labelColor": "#262626", "labelPadding": 32, "labelFlush": false, "title": "Temperature (K)", "titleFont": "Lato", "titleFontSize": 38, "titleFontWeight": "bold", "titleColor": "#000000", "titleX": -106, "titleY": 580, "titleAngle": -90, "titleAlign": "center", "titleBaseline": "middle"}},
"y2": {"field": "k1"}
}
},
{
"data": {"name": "hsaband"},
"mark": {"type": "area", "color": "#c8691f", "opacity": 1},
"encoding": {"x": {"field": "d", "type": "quantitative"}, "y": {"field": "hi", "type": "quantitative"}, "y2": {"field": "lo"}}
},
{
"data": {"name": "hsazig"},
"mark": {"type": "line", "color": "#c8691f", "strokeWidth": 3},
"encoding": {"x": {"field": "d", "type": "quantitative"}, "y": {"field": "k", "type": "quantitative"}}
},
{
"data": {"name": "series"},
"mark": {"type": "line", "strokeJoin": "round"},
"encoding": {
"x": {"field": "d", "type": "quantitative"},
"y": {"field": "k", "type": "quantitative"},
"color": {"field": "s", "type": "nominal",
"scale": {"domain": ["ISIM Structure (Max)","ISIM Structure (Ave)","ISIM Structure (Min)","HSA","MIRI Shield Max","MIRI Shield Min","MIRI OM","MIRI FPA","FGS Bench","NIRSpec Bench","NIRSpec FPA","NIRCam Bench","PM (Max)","PM (Avg)","PM (Min)","SM","TM","FSM"],
"range": ["#ff1a1a","#44b549","#2e75b6","#c8691f","#3a4454","#858585","#f5b935","#4677c0","#5bb3e6","#4cae50","#668c3c","#c3211d","#8a1616","#3dbb4f","#304d9a","#f7c12a","#c0712f","#7a3fb0"]},
"legend": {"title": null, "orient": "none", "direction": "horizontal", "legendX": 793, "legendY": 30, "columns": 3, "gridAlign": "all", "padding": 10, "fillColor": "#ffffff", "symbolType": "stroke", "symbolSize": 5776, "symbolStrokeWidth": 4.5, "clipHeight": 33.5, "labelFont": "Lato", "labelFontSize": 25, "labelColor": "#505050", "labelOffset": 3, "labelLimit": 500, "rowPadding": 0, "columnPadding": 17, "symbolOffset": 0}},
"strokeDash": {"field": "s", "type": "nominal",
"scale": {"domain": ["ISIM Structure (Max)","ISIM Structure (Ave)","ISIM Structure (Min)","HSA","MIRI Shield Max","MIRI Shield Min","MIRI OM","MIRI FPA","FGS Bench","NIRSpec Bench","NIRSpec FPA","NIRCam Bench","PM (Max)","PM (Avg)","PM (Min)","SM","TM","FSM"],
"range": [[8,4],[8,4],[8,4],[1,0],[16,10,4,10],[16,10,4,10],[1,0],[1,0],[1,0],[1,0],[1,0],[1,0],[1,0],[1,0],[1,0],[1,0],[1,0],[1,0]]}},
"strokeWidth": {"field": "s", "type": "nominal",
"scale": {"domain": ["ISIM Structure (Max)","ISIM Structure (Ave)","ISIM Structure (Min)","HSA","MIRI Shield Max","MIRI Shield Min","MIRI OM","MIRI FPA","FGS Bench","NIRSpec Bench","NIRSpec FPA","NIRCam Bench","PM (Max)","PM (Avg)","PM (Min)","SM","TM","FSM"],
"range": [4,4,4,6.5,5.5,5.5,6,6.5,6.5,6.5,6,6.5,2.2,2.2,2.2,2.2,2.2,2.2]}}
}
},
{
"data": {"values": [{"x1": 0, "x2": 120, "y1": 140, "y2": 160}]},
"mark": {"type": "rect", "color": "#4a86c8", "opacity": 0.45},
"encoding": {"x": {"field": "x1", "type": "quantitative"}, "x2": {"field": "x2"}, "y": {"field": "y1", "type": "quantitative"}, "y2": {"field": "y2"}}
},
{
"data": {"values": [{"d": 65.06, "k": 149.5, "t": "Water band 160-140K"}]},
"mark": {"type": "text", "font": "Lato", "fontSize": 43, "fontWeight": "bold", "color": "#ffffff", "align": "center", "baseline": "middle"},
"encoding": {"x": {"field": "d", "type": "quantitative"}, "y": {"field": "k", "type": "quantitative"}, "text": {"field": "t"}}
},
{
"data": {"name": "boxes"},
"mark": {"type": "rect", "fill": "#d9d9d9", "stroke": "#000000", "strokeWidth": 2.5},
"encoding": {"x": {"field": "x1", "type": "quantitative"}, "x2": {"field": "x2"}, "y": {"field": "y1", "type": "quantitative"}, "y2": {"field": "y2"}}
},
{
"data": {"name": "boxtext"},
"mark": {"type": "text", "font": "Lato", "fontSize": 27, "color": "#262626", "align": "left", "baseline": "middle"},
"encoding": {"x": {"field": "d", "type": "quantitative"}, "y": {"field": "k", "type": "quantitative"}, "text": {"field": "t"}}
},
{
"data": {"name": "miritext"},
"mark": {"type": "text", "font": "Open Sans", "fontSize": 25, "color": "#262626", "align": "left", "baseline": "middle"},
"encoding": {"x": {"field": "d", "type": "quantitative"}, "y": {"field": "k", "type": "quantitative"}, "text": {"field": "t"}}
},
{
"data": {"name": "arrows"},
"mark": {"type": "rule", "color": "#1a1a1a", "strokeWidth": 1.5},
"encoding": {"x": {"field": "d1", "type": "quantitative"}, "y": {"field": "k1", "type": "quantitative"}, "x2": {"field": "d2"}, "y2": {"field": "k2"}}
},
{
"data": {"name": "heads"}, "transform": [{"filter": "datum.id === 'a1'"}],
"mark": {"type": "point", "shape": "M0,0L0.65,2L-0.65,2Z", "size": 324, "filled": true, "color": "#000000", "opacity": 1, "angle": -107},
"encoding": {"x": {"field": "d", "type": "quantitative"}, "y": {"field": "k", "type": "quantitative"}}
},
{
"data": {"name": "heads"}, "transform": [{"filter": "datum.id === 'a2'"}],
"mark": {"type": "point", "shape": "M0,0L0.65,2L-0.65,2Z", "size": 324, "filled": true, "color": "#000000", "opacity": 1, "angle": -173},
"encoding": {"x": {"field": "d", "type": "quantitative"}, "y": {"field": "k", "type": "quantitative"}}
},
{
"data": {"name": "heads"}, "transform": [{"filter": "datum.id === 'a3'"}],
"mark": {"type": "point", "shape": "M0,0L0.65,2L-0.65,2Z", "size": 324, "filled": true, "color": "#000000", "opacity": 1, "angle": -120},
"encoding": {"x": {"field": "d", "type": "quantitative"}, "y": {"field": "k", "type": "quantitative"}}
},
{
"data": {"name": "heads"}, "transform": [{"filter": "datum.id === 'a4'"}],
"mark": {"type": "point", "shape": "M0,0L0.65,2L-0.65,2Z", "size": 324, "filled": true, "color": "#000000", "opacity": 1, "angle": -122},
"encoding": {"x": {"field": "d", "type": "quantitative"}, "y": {"field": "k", "type": "quantitative"}}
},
{
"data": {"name": "heads"}, "transform": [{"filter": "datum.id === 'a5'"}],
"mark": {"type": "point", "shape": "M0,0L0.65,2L-0.65,2Z", "size": 324, "filled": true, "color": "#000000", "opacity": 1, "angle": -134},
"encoding": {"x": {"field": "d", "type": "quantitative"}, "y": {"field": "k", "type": "quantitative"}}
},
{
"data": {"name": "stars"},
"mark": {"type": "point", "shape": "M0,-1L0.235,-0.324L0.951,-0.309L0.38,0.124L0.588,0.809L0,0.4L-0.588,0.809L-0.38,0.124L-0.951,-0.309L-0.235,-0.324Z", "size": 676, "filled": true, "color": "#000000", "opacity": 1},
"encoding": {"x": {"field": "d", "type": "quantitative"}, "y": {"field": "k", "type": "quantitative"}}
},
{
"data": {"values": [{"d1": 81.9, "d2": 79.0, "k": 190}]},
"mark": {"type": "rule", "color": "#f7c042", "strokeWidth": 7},
"encoding": {"x": {"field": "d1", "type": "quantitative"}, "x2": {"field": "d2"}, "y": {"field": "k", "type": "quantitative"}}
},
{
"data": {"values": [{"d": 77.9, "k": 190}]},
"mark": {"type": "point", "shape": "M0,0L1.1,1.8L-1.1,1.8Z", "size": 400, "filled": true, "color": "#f7c042", "opacity": 1, "angle": -90},
"encoding": {"x": {"field": "d", "type": "quantitative"}, "y": {"field": "k", "type": "quantitative"}}
},
{
"data": {"values": [{"d1": 101.6, "d2": 100.0, "k": 14.1}]},
"mark": {"type": "rule", "color": "#5b9bd5", "strokeWidth": 7},
"encoding": {"x": {"field": "d1", "type": "quantitative"}, "x2": {"field": "d2"}, "y": {"field": "k", "type": "quantitative"}}
},
{
"data": {"values": [{"d": 98.9, "k": 14.1}]},
"mark": {"type": "point", "shape": "M0,0L1.1,1.8L-1.1,1.8Z", "size": 400, "filled": true, "color": "#5b9bd5", "opacity": 1, "angle": -90},
"encoding": {"x": {"field": "d", "type": "quantitative"}, "y": {"field": "k", "type": "quantitative"}}
},
{
"data": {"values": [{"x1": 74.7, "x2": 120.3, "y1": -36, "y2": -17.3}]},
"mark": {"type": "rect", "fill": "#f8cbad", "stroke": null},
"encoding": {"x": {"field": "x1", "type": "quantitative"}, "x2": {"field": "x2"}, "y": {"field": "y1", "type": "quantitative"}, "y2": {"field": "y2"}}
},
{
"data": {"values": [{"d": 75.8, "k": -22.1, "t": "FSM temps not shown before L+12.9d due to inconsistencies"}, {"d": 75.8, "k": -31.1, "t": "between deployment and post-deployment models"}]},
"mark": {"type": "text", "font": "Lato", "fontSize": 25, "color": "#262626", "align": "left", "baseline": "middle"},
"encoding": {"x": {"field": "d", "type": "quantitative"}, "y": {"field": "k", "type": "quantitative"}, "text": {"field": "t"}}
}
]
},
{
"data": {"values": [{"d": 0, "k": 0}]},
"mark": {"type": "point", "opacity": 0},
"encoding": {
"x": {"field": "d", "type": "quantitative", "scale": {"domain": [0, 120], "nice": false, "zero": false},
"axis": {"orient": "bottom", "values": [2,4,6,8,12,14,16,18,22,24,26,28,32,34,36,38,42,44,46,48,52,54,56,58,62,64,66,68,72,74,76,78,82,84,86,88,92,94,96,98,102,104,106,108,112,114,116,118], "labels": false, "domain": false, "grid": false, "ticks": true, "tickSize": -8, "tickColor": "#bfbfbf", "tickWidth": 2, "title": null}},
"y": {"field": "k", "type": "quantitative", "scale": {"domain": [0, 320], "nice": false, "zero": false},
"axis": {"orient": "left", "values": [5,10,15,25,30,35,45,50,55,65,70,75,85,90,95,105,110,115,125,130,135,145,150,155,165,170,175,185,190,195,205,210,215,225,230,235,245,250,255,265,270,275,285,290,295,305,310], "labels": false, "domain": false, "grid": false, "ticks": true, "tickSize": -8, "tickColor": "#bfbfbf", "tickWidth": 2, "title": null}}
}
}
]
}
